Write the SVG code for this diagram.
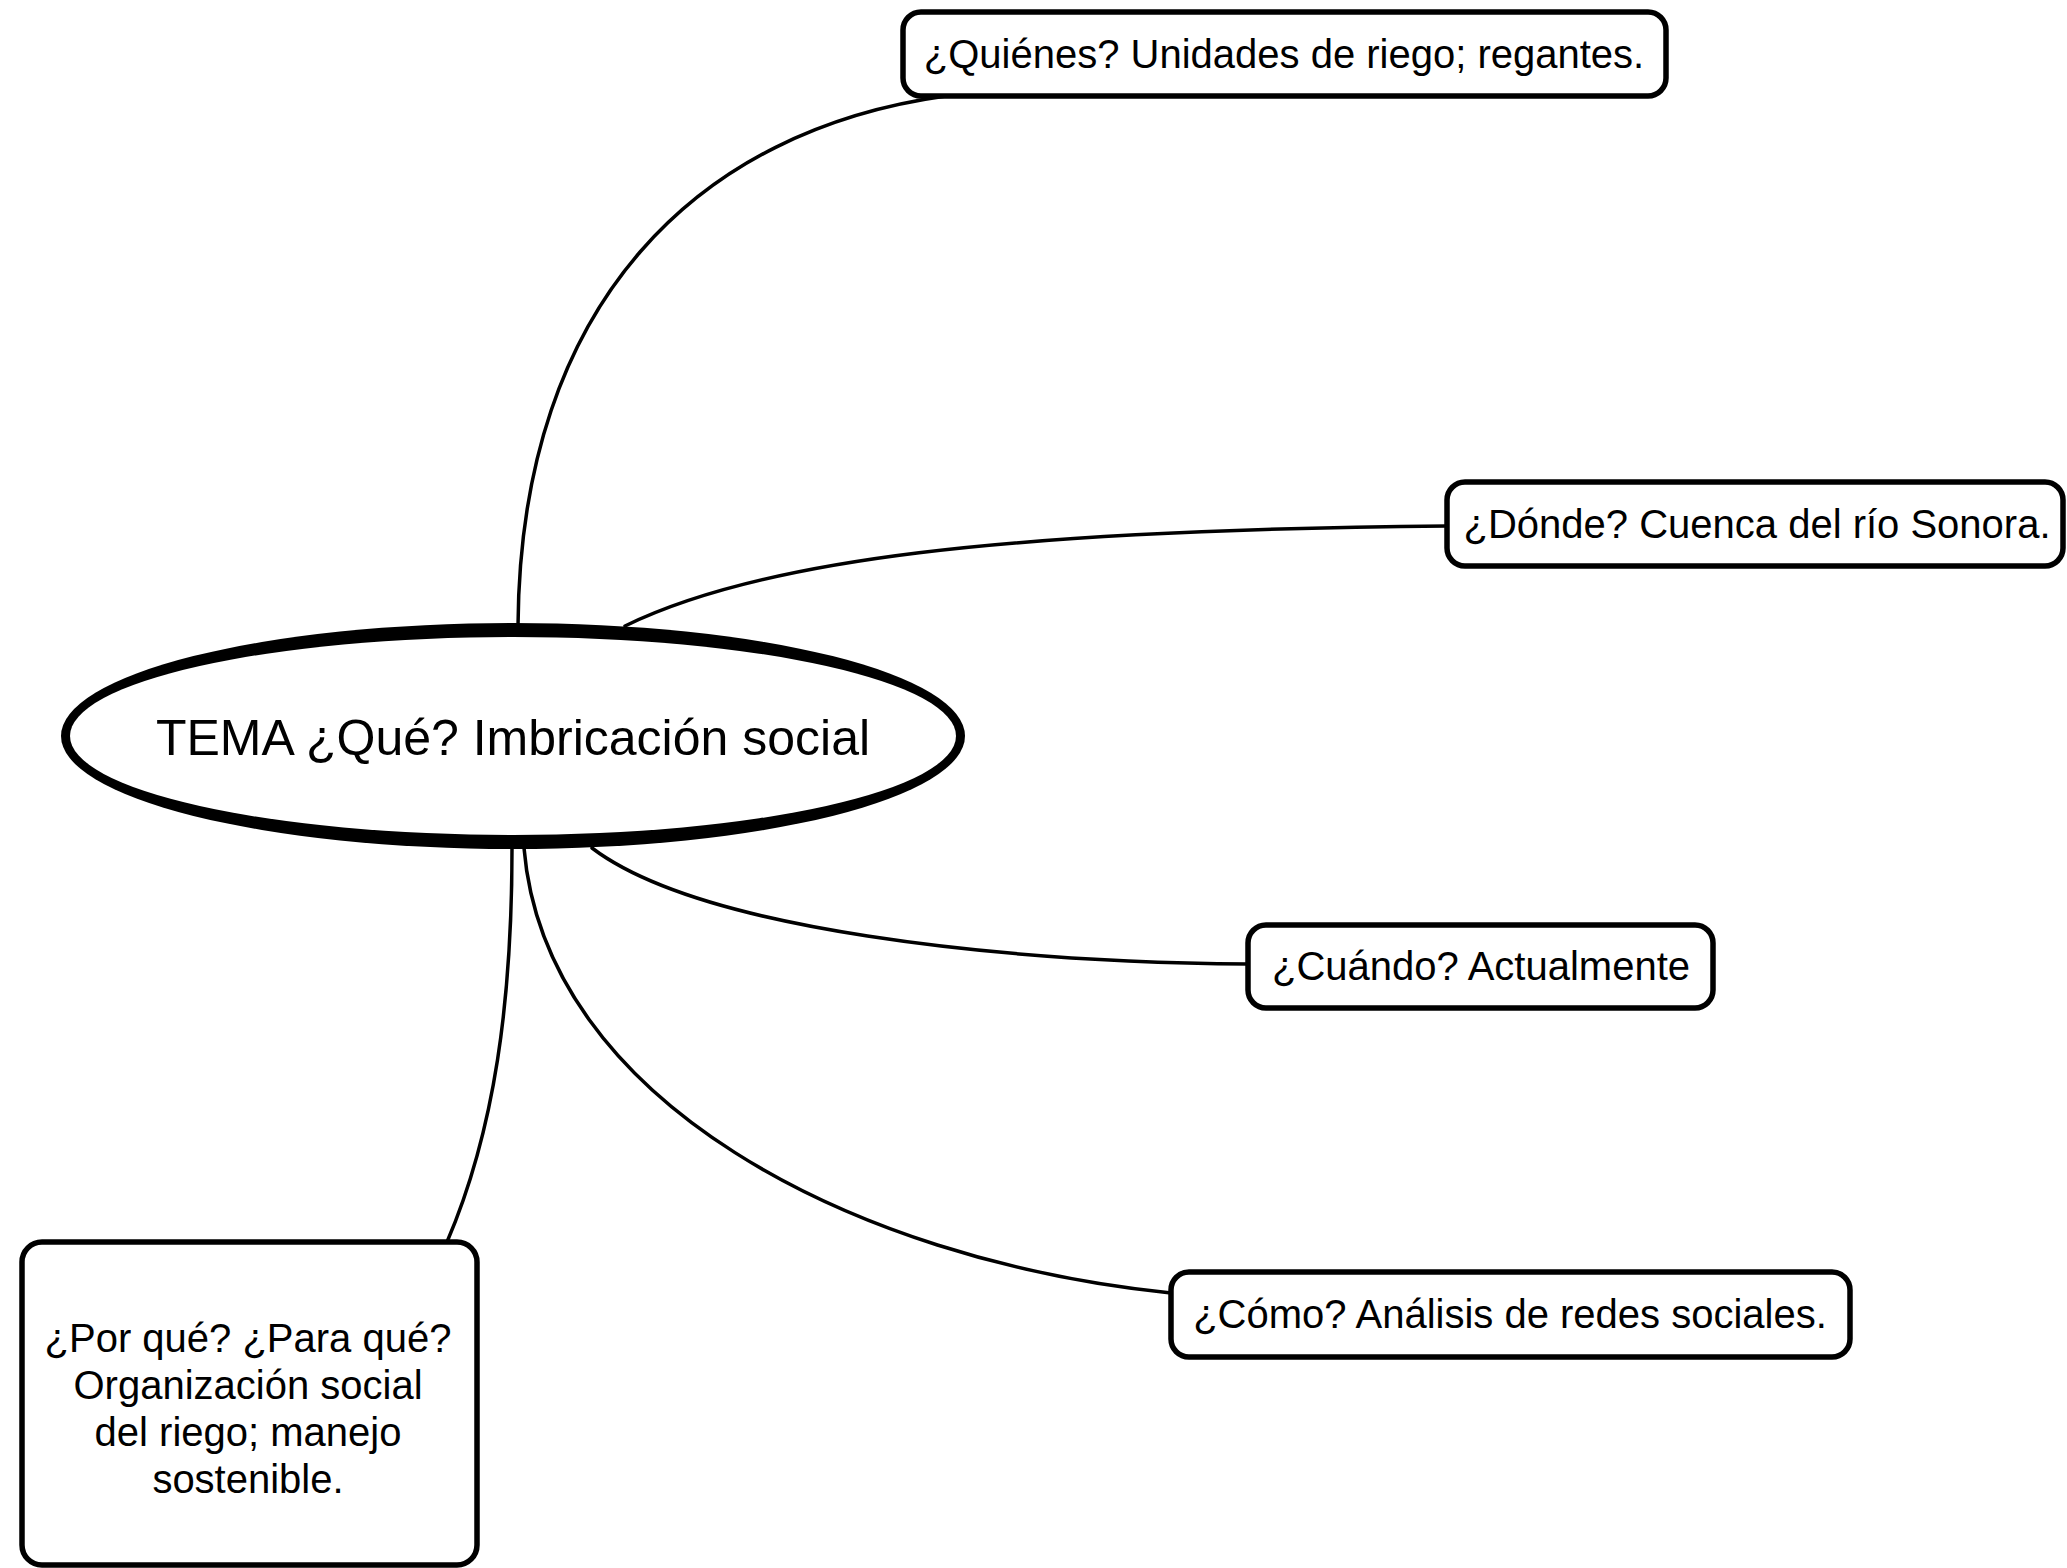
<svg xmlns="http://www.w3.org/2000/svg" width="2067" height="1568" viewBox="0 0 2067 1568">
<style>
.conn{fill:none;stroke:#000;stroke-width:3.5;stroke-linecap:round}
.box{fill:#fff;stroke:#000;stroke-width:5.5}
.t{font-family:"Liberation Sans",Arial,Helvetica,sans-serif;font-size:40px;fill:#000;text-anchor:middle}
.title{font-family:"Liberation Sans",Arial,Helvetica,sans-serif;font-size:50px;fill:#000;text-anchor:middle}
</style>
<rect width="2067" height="1568" fill="#fff"/>
<g id="connectors">
<path class="conn" d="M518 626 C520 300 700 130 946 96"/>
<path class="conn" d="M625 626 C760 560 1000 530 1447 526"/>
<path class="conn" d="M592 848 C700 930 1000 962 1248 964"/>
<path class="conn" d="M524 848 C545 1100 850 1260 1171 1293"/>
<path class="conn" d="M512 848 C512 1000 495 1130 447 1242"/>
</g>
<g id="center">
<ellipse cx="513" cy="736" rx="452" ry="113" fill="#000"/>
<ellipse cx="513" cy="736" rx="443" ry="99" fill="#fff"/>
<text class="title" x="513" y="755">TEMA ¿Qué? Imbricación social</text>
</g>
<g id="quienes">
<rect class="box" x="903" y="12" width="763" height="84" rx="18"/>
<text class="t" x="1284" y="68">¿Quiénes? Unidades de riego; regantes.</text>
</g>
<g id="donde">
<rect class="box" x="1447" y="482" width="616" height="84" rx="18"/>
<text class="t" x="1757" y="538">¿Dónde? Cuenca del río Sonora.</text>
</g>
<g id="cuando">
<rect class="box" x="1248" y="925" width="465" height="83" rx="18"/>
<text class="t" x="1481" y="980">¿Cuándo? Actualmente</text>
</g>
<g id="como">
<rect class="box" x="1171" y="1272" width="679" height="85" rx="18"/>
<text class="t" x="1510" y="1328">¿Cómo? Análisis de redes sociales.</text>
</g>
<g id="porque">
<rect class="box" x="22" y="1242" width="455" height="323" rx="20"/>
<text class="t" x="248" y="1352">¿Por qué? ¿Para qué?</text>
<text class="t" x="248" y="1399">Organización social</text>
<text class="t" x="248" y="1446">del riego; manejo</text>
<text class="t" x="248" y="1493">sostenible.</text>
</g>
</svg>
